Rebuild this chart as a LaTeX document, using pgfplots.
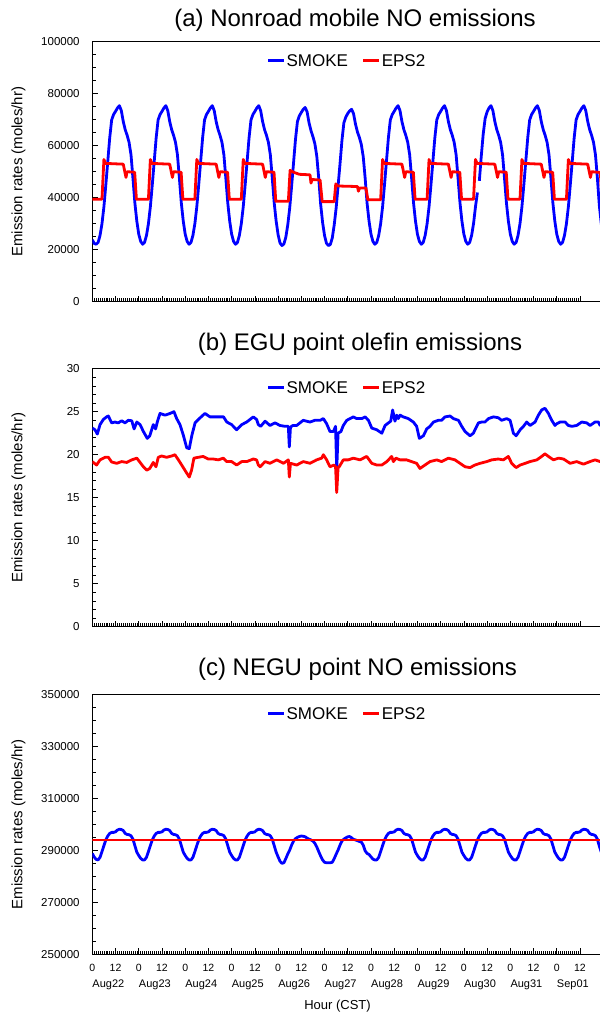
\documentclass[border=0pt]{standalone}
\usepackage{fontspec}
\setmainfont{Liberation Sans}
\usepackage{pgfplots}
\pgfplotsset{compat=1.18}

\newcommand\titlefont{\fontsize{24}{28}\selectfont}
\newcommand\legfont{\fontsize{17}{20}\selectfont}

\pgfplotsset{
  panel/.style={
    scale only axis, width=510.9pt,
    xmin=0, xmax=264,
    axis line style={black, line width=0.8pt},
    tick style={black, line width=0.6pt},
    tick align=inside, tick pos=left,
    major tick length=6pt, minor tick length=3.5pt,
    xtick={0,12,...,252}, minor x tick num=11,
    xticklabels={},
    scaled y ticks=false,
    yticklabel style={font=\fontsize{11.5}{13}\selectfont,
      /pgf/number format/assume math mode=true,
      /pgf/number format/1000 sep={}, /pgf/number format/fixed,
      inner sep=0pt, xshift=-12.5pt},
    ylabel={Emission rates (moles/hr)},
    every axis y label/.style={at={(axis description cs:-0.1445,0.5)},
      rotate=90, anchor=center, font=\fontsize{15}{18}\selectfont},
    legend columns=2, legend cell align=left,
    legend image code/.code={\draw[#1, line width=2.8pt] (0pt,0pt) -- (16pt,0pt);},
    legend style={draw=none, fill=none, font=\legfont, inner sep=0pt,
      at={(axis description cs:0.4976,1)}, anchor=center, yshift=-19pt,
      nodes={inner sep=1pt, text depth=0pt},
      /tikz/every even column/.append style={column sep=13pt}},
    every axis plot/.append style={line width=2.8pt, line join=round},
  }
}

\begin{document}
\begin{tikzpicture}

% (a) nonroad mobile NO
\begin{axis}[panel, at={(92.3pt,-301.7pt)}, anchor=south west, height=260pt,
  ymin=0, ymax=100000, ytick={0,20000,40000,60000,80000,100000}, minor y tick num=3,
  title={(a) Nonroad mobile NO emissions},
  title style={at={(axis description cs:0.5142,1.0362)}, anchor=base, font=\titlefont, inner sep=0pt},
  unbounded coords=jump]
\addplot[blue] coordinates {
(0,23800)(1,22400)(2,22100)(3,22800)(4,25500)(5,30000)(6,36500)(7,45000)(8,54000)(9,63000)(10,69900)(11,72000)(12,73200)(13,74500)(14,75400)(15,73500)(16,69300)(17,66200)(18,64000)(19,61300)(20,56500)(21,47500)(22,38000)(23,31000)
(24,26000)(25,23200)(26,22100)(27,22800)(28,25500)(29,30000)(30,36500)(31,45000)(32,54000)(33,63000)(34,69900)(35,72000)(36,73200)(37,74500)(38,75400)(39,73500)(40,69300)(41,66200)(42,64000)(43,61300)(44,56500)(45,47500)(46,38000)(47,31000)
(48,26000)(49,23200)(50,22100)(51,22800)(52,25500)(53,30000)(54,36500)(55,45000)(56,54000)(57,63000)(58,69900)(59,72000)(60,73200)(61,74500)(62,75400)(63,73500)(64,69300)(65,66200)(66,64000)(67,61300)(68,56500)(69,47500)(70,38000)(71,31000)
(72,26000)(73,23200)(74,22100)(75,22800)(76,25500)(77,30000)(78,36500)(79,45000)(80,54000)(81,63000)(82,69900)(83,72000)(84,73200)(85,74500)(86,75400)(87,73500)(88,69300)(89,66200)(90,64000)(91,61300)(92,56500)(93,47500)(94,38000)(95,31000)
(96,25800)(97,22600)(98,21600)(99,22200)(100,24800)(101,29500)(102,36000)(103,44500)(104,53500)(105,62500)(106,69300)(107,71500)(108,72800)(109,74000)(110,74700)(111,73000)(112,68800)(113,65800)(114,63500)(115,60800)(116,56000)(117,47500)(118,37500)(119,30500)
(120,25500)(121,22500)(122,21600)(123,22000)(124,24500)(125,29500)(126,36000)(127,44500)(128,53000)(129,62000)(130,68800)(131,71000)(132,72400)(133,73400)(134,74000)(135,72300)(136,68300)(137,65300)(138,63200)(139,60500)(140,55800)(141,47500)(142,37800)(143,31000)
(144,26000)(145,23200)(146,22100)(147,22800)(148,25500)(149,30000)(150,36500)(151,45000)(152,54000)(153,63000)(154,69900)(155,72000)(156,73200)(157,74500)(158,75400)(159,73500)(160,69300)(161,66200)(162,64000)(163,61300)(164,56500)(165,47500)(166,38000)(167,31000)
(168,26000)(169,23200)(170,22100)(171,22800)(172,25500)(173,30000)(174,36500)(175,45000)(176,54000)(177,63000)(178,69900)(179,72000)(180,73200)(181,74500)(182,75400)(183,73500)(184,69300)(185,66200)(186,64000)(187,61300)(188,56500)(189,47500)(190,38000)(191,31000)
(192,26000)(193,23200)(194,22100)(195,22800)(196,25500)(197,30000)(198,36500)(199,42000)(199.5,nan)(200,46500)(201,56000)(202,64500)(203,70500)(204,73000)(205,74500)(206,75400)(207,73500)(208,69300)(209,66200)(210,64000)(211,61300)(212,56500)(213,47500)(214,38000)(215,31000)
(216,26000)(217,23200)(218,22100)(219,22800)(220,25500)(221,30000)(222,36500)(223,45000)(224,54000)(225,63000)(226,69900)(227,72000)(228,73200)(229,74500)(230,75400)(231,73500)(232,69300)(233,66200)(234,64000)(235,61300)(236,56500)(237,47500)(238,38000)(239,31000)
(240,26000)(241,23200)(242,22100)(243,22800)(244,25500)(245,30000)(246,36500)(247,45000)(248,54000)(249,63000)(250,69900)(251,72000)(252,73200)(253,74500)(254,75400)(255,73500)(256,69300)(257,66200)(258,64000)(259,61300)(260,56500)(261,47500)(262,37000)(263,30000)(264,26000)
};
\addplot[red] coordinates {
(0,39400)(5,39400)(6,54700)(6.8,53200)(16,52900)(16.8,50000)(17.4,47800)(18,50000)(21.9,49800)(22.8,39400)
(29,39400)(30,54700)(30.8,53200)(40,52900)(40.8,50000)(41.4,47800)(42,50000)(45.9,49800)(46.8,39400)
(53,39400)(54,54700)(54.8,53200)(64,52900)(64.8,50000)(65.4,47800)(66,50000)(69.9,49800)(70.8,39400)
(77,39400)(78,54700)(78.8,53200)(88,52900)(88.8,50000)(89.4,47800)(90,50000)(93.9,49800)(94.8,38600)
(101.3,38600)(102.2,50500)(104,49800)(107,49000)(112.5,48800)(113,45600)(113.6,47000)(117.7,46800)(118.8,38500)
(125,38500)(125.8,45300)(127,44500)(137,44300)(137.5,42500)(138.1,43700)(141.4,43700)(142.4,39200)
(149,39200)(150,54700)(150.8,53200)(160,52900)(160.8,50000)(161.4,47800)(162,50000)(165.9,49800)(166.8,39400)
(173,39400)(174,54700)(174.8,53200)(184,52900)(184.8,50000)(185.4,47800)(186,50000)(189.9,49800)(190.8,39400)
(197,39400)(198,54700)(198.8,53200)(208,52900)(208.8,50000)(209.4,47800)(210,50000)(213.9,49800)(214.8,39400)
(221,39400)(222,54700)(222.8,53200)(232,52900)(232.8,50000)(233.4,47800)(234,50000)(237.9,49800)(238.8,39400)
(245,39400)(246,54700)(246.8,53200)(256,52900)(256.8,50000)(257.4,47800)(258,50000)(262.5,49700)(263.4,39400)(264,39400)
};
\legend{SMOKE,EPS2}
\end{axis}

% (b) EGU point olefin
\begin{axis}[panel, at={(92.3pt,-626.7pt)}, anchor=south west, height=258pt,
  ymin=0, ymax=30, ytick={0,5,...,30}, minor y tick num=4,
  title={(b) EGU point olefin emissions},
  title style={at={(axis description cs:0.524,1.0465)}, anchor=base, font=\titlefont, inner sep=0pt}]
\addplot[blue] coordinates {
(0,23.1)(1.4,22.9)(2.6,22.4)(4,23.5)(5.7,24.1)(7.4,24.4)(8.3,24.5)(10,23.7)(11.7,23.8)(13.4,23.7)(15.2,23.95)(16.9,23.7)(18.6,24.0)(20.4,23.95)(21.6,23.0)(23,23.8)
(24.7,23.5)(26.4,22.7)(28.4,21.9)(29.7,22.2)(31.5,23.5)(32.7,23.0)(33.7,23.9)(35,24.8)(37.6,24.6)(40.2,24.8)(42.2,25.0)(43.6,24.2)(45.3,23.5)(47,22.3)
(48.8,20.8)(50.1,20.7)(51.4,22.2)(53.1,23.7)(54.8,24.1)(58.2,24.8)(60.8,24.4)(64.3,24.4)(67.8,24.4)(69.5,23.8)(72,23.5)(74.6,22.9)(77.2,23.5)(79.8,23.8)
(83.2,24.4)(84.9,24.1)(85.8,23.5)(87,23.3)(89.3,23.9)(91.8,23.4)(94.4,23.7)(97,23.4)(99.6,23.3)(101.3,23.3)(101.8,20.9)(102.4,23.2)(103.6,23.4)(105.6,23.4)
(109,24.0)(112.5,23.8)(115,24.0)(117.7,24.0)(119.4,24.2)(121.1,23.6)(122.8,22.7)(124.6,22.7)(125.7,23.3)(126.3,18.2)(127,22.5)(128.5,22.7)(129.7,23.4)
(131.5,24.0)(133.2,24.2)(134.9,24.4)(136.6,24.2)(139.2,24.2)(141,24.4)(142.7,24.0)(144.4,23.1)(147,22.9)(149.6,22.5)(151.3,23.4)(153,23.7)(154.2,23.9)
(155.2,25.2)(156.4,23.9)(157.3,24.6)(158.1,24.2)(159,24.6)(160.7,24.4)(163.3,24.2)(165.9,23.8)(167.6,23.3)(169,21.9)(171.1,22.2)(172.8,23.0)(174.5,23.3)
(176.3,23.8)(178.8,24.0)(180.5,24.0)(182.3,24.4)(184.9,24.5)(186.6,24.2)(189.2,24.0)(190.9,23.3)(192.6,22.7)(195.2,22.2)(196.9,22.5)(199.5,23.7)(201.2,23.8)
(202.9,23.8)(204.7,24.2)(207.3,24.4)(209.8,24.3)(211.5,24.0)(214.1,24.2)(215.9,24.0)(217.6,22.5)(219,22.2)(221.1,22.9)(222.8,23.3)(224.5,23.8)(226.2,23.4)
(228.8,23.8)(230.5,24.6)(232.2,25.2)(233.9,25.4)(235.7,24.8)(237.4,24.0)(239.1,23.4)(240,23.6)(241.7,23.8)(244.3,23.8)(246,23.4)(247.8,23.3)(250.3,23.4)
(252.9,23.8)(255.5,23.7)(257.2,23.4)(259.8,23.8)(261.5,23.8)(262.4,23.4)(264,23.5)
};
\addplot[red] coordinates {
(0,19.2)(2.2,18.8)(4,19.4)(6.6,19.7)(8.3,19.7)(10,19.15)(12.6,19.0)(15.2,19.2)(17.8,19.1)(20.4,19.4)(23,19.6)(24.7,19.1)(26.4,18.6)(28.1,18.2)(29.7,18.4)
(31.5,19.1)(32.9,18.6)(34.1,19.7)(35.8,19.85)(38.4,19.7)(41,19.85)(42.7,20.0)(44.5,19.4)(46.2,18.8)(48.4,18.0)(50.1,17.4)(51.3,18.2)(52.5,19.6)(54.8,19.7)
(57.3,19.8)(59.9,19.5)(62.5,19.5)(65.1,19.4)(67.7,19.6)(69.4,19.2)(72,19.2)(74.6,18.8)(77.2,19.2)(79.8,19.2)(83.2,19.5)(84.9,19.4)(85.8,18.8)(86.7,18.6)
(89.3,19.2)(91.8,19.0)(95.3,19.4)(98.8,19.0)(101.3,19.4)(101.8,17.4)(102.4,19.0)(105.6,18.8)(109,19.2)(112.5,19.0)(115.9,19.4)(118.5,19.6)(119.4,20.0)
(121.1,19.4)(122.8,18.6)(124.9,18.8)(125.7,18.6)(126.3,15.6)(127,18.5)(127.6,18.6)(129.7,19.4)(132.3,19.4)(134.9,19.6)(138.3,19.4)(141.8,19.8)(144.4,19.0)
(147,18.8)(149.6,18.8)(152.2,19.2)(154.7,19.8)(155.6,19.2)(156.9,19.6)(159,19.4)(162.4,19.4)(165,19.2)(167.6,19.0)(169.3,18.4)(171.9,18.8)(174.5,19.2)
(178,19.4)(180.5,19.2)(184,19.6)(187.4,19.4)(190,19.0)(192.6,18.6)(195.2,18.5)(197.7,18.8)(200.4,19.0)(203.8,19.2)(206.4,19.4)(209.8,19.5)(212.4,19.4)
(215,19.8)(216.7,19.0)(219,18.5)(221.1,18.8)(223.7,19.0)(226.2,19.2)(229.7,19.4)(232.2,19.8)(233.9,20.1)(235.7,19.8)(238.3,19.4)(240.9,19.6)(243.5,19.5)
(246.9,19.0)(250.3,19.2)(253.8,18.9)(257.2,19.2)(259.8,19.4)(262.4,19.2)(264,19.3)
};
\legend{SMOKE,EPS2}
\end{axis}

% (c) NEGU point NO
\begin{axis}[panel, at={(92.3pt,-954.3pt)}, anchor=south west, height=260pt,
  ymin=250000, ymax=350000, ytick={250000,270000,290000,310000,330000,350000}, minor y tick num=3,
  title={(c) NEGU point NO emissions},
  title style={at={(axis description cs:0.519,1.0485)}, anchor=base, font=\titlefont, inner sep=0pt},
  xticklabels={0,12,0,12,0,12,0,12,0,12,0,12,0,12,0,12,0,12,0,12,0,12},
  xticklabel style={font=\fontsize{10.5}{12}\selectfont, anchor=north, inner sep=0pt, yshift=-9.4pt},
  extra x ticks={0,24,...,240},
  extra x tick labels={Aug22,Aug23,Aug24,Aug25,Aug26,Aug27,Aug28,Aug29,Aug30,Aug31,Sep01},
  extra x tick style={major tick length=0pt,
    xticklabel style={anchor=north west, yshift=-16.3pt, font=\fontsize{11}{13}\selectfont}},
  xlabel={Hour (CST)},
  every axis x label/.style={at={(axis description cs:0.48,-0.1769)}, anchor=north,
    inner sep=0pt, font=\fontsize{13}{15}\selectfont}]
\addplot[blue] coordinates {
(0,288800)(1,287400)(2,286500)(3,286300)(4,287300)(5,289500)(6,291800)(7,294000)(8,295500)(9,296500)(10,296900)(11,296900)(12,297100)(13,297800)(14,298100)(15,298000)(16,297600)(17,296500)(18,296100)(19,296000)(20,295600)(21,294300)(22,291800)(23,289300)
(24,288000)(25,286900)(26,286300)(27,286300)(28,287300)(29,289500)(30,291800)(31,294000)(32,295500)(33,296500)(34,296900)(35,296900)(36,297100)(37,297800)(38,298100)(39,298000)(40,297600)(41,296500)(42,296100)(43,296000)(44,295600)(45,294300)(46,291800)(47,289300)
(48,288000)(49,286900)(50,286300)(51,286300)(52,287300)(53,289500)(54,291800)(55,294000)(56,295500)(57,296500)(58,296900)(59,296900)(60,297100)(61,297800)(62,298100)(63,298000)(64,297600)(65,296500)(66,296100)(67,296000)(68,295600)(69,294300)(70,291800)(71,289300)
(72,288000)(73,286900)(74,286300)(75,286300)(76,287300)(77,289500)(78,291800)(79,294000)(80,295500)(81,296500)(82,296900)(83,296900)(84,297100)(85,297800)(86,298100)(87,298000)(88,297600)(89,296500)(90,296100)(91,296000)(92,295600)(93,294300)(94,291800)(95,289300)
(96,287500)(97,285800)(98,285000)(99,285200)(100,286800)(101,288600)(102,290100)(103,292000)(104,293600)(105,294500)(106,295000)(107,295300)(108,295500)(109,295400)(110,295200)(111,294700)(112,294300)(113,294000)(114,293600)(115,292700)(116,291300)(117,289500)(118,287800)(119,286300)
(120,285400)(121,285200)(122,285200)(123,285200)(124,285400)(125,286800)(126,288500)(127,290100)(128,292000)(129,293600)(130,294300)(131,294800)(132,295200)(133,295300)(134,294800)(135,294200)(136,294000)(137,293700)(138,293400)(139,293200)(140,292000)(141,289800)(142,288800)(143,288400)
(144,287500)(145,286600)(146,286300)(147,286300)(148,287300)(149,289500)(150,291800)(151,294000)(152,295500)(153,296500)(154,296900)(155,296900)(156,297100)(157,297800)(158,298100)(159,298000)(160,297600)(161,296500)(162,296100)(163,296000)(164,295600)(165,294300)(166,291800)(167,289300)
(168,288000)(169,286900)(170,286300)(171,286300)(172,287300)(173,289500)(174,291800)(175,294000)(176,295500)(177,296500)(178,296900)(179,296900)(180,297100)(181,297800)(182,298100)(183,298000)(184,297600)(185,296500)(186,296100)(187,296000)(188,295600)(189,294300)(190,291800)(191,289300)
(192,288000)(193,286900)(194,286300)(195,286300)(196,287300)(197,289500)(198,291800)(199,294000)(200,295500)(201,296500)(202,296900)(203,296900)(204,297100)(205,297800)(206,298100)(207,298000)(208,297600)(209,296500)(210,296100)(211,296000)(212,295600)(213,294300)(214,291800)(215,289300)
(216,288000)(217,286900)(218,286300)(219,286300)(220,287300)(221,289500)(222,291800)(223,294000)(224,295500)(225,296500)(226,296900)(227,296900)(228,297100)(229,297800)(230,298100)(231,298000)(232,297600)(233,296500)(234,296100)(235,296000)(236,295600)(237,294300)(238,291800)(239,289300)
(240,288000)(241,286900)(242,286300)(243,286300)(244,287300)(245,289500)(246,291800)(247,294000)(248,295500)(249,296500)(250,296900)(251,296900)(252,297100)(253,297800)(254,298100)(255,298000)(256,297600)(257,296500)(258,296100)(259,296000)(260,295600)(261,294300)(262,291600)(263,289300)(264,288000)
};
\addplot[red] coordinates {(0,294000)(264,294000)};
\legend{SMOKE,EPS2}
\end{axis}

\pgfresetboundingbox
\useasboundingbox (0pt,0pt) rectangle (600pt,-1013pt);
\end{tikzpicture}
\end{document}
